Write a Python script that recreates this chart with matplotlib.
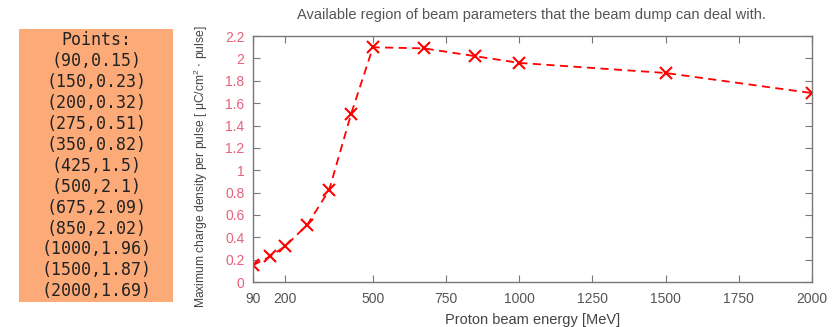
import matplotlib
matplotlib.use("Agg")
import matplotlib.pyplot as plt
from matplotlib.patches import Rectangle

# beam dump limits
energy = [90, 150, 200, 275, 350, 425, 500, 675, 850, 1000, 1500, 2000]
charge = [0.15, 0.23, 0.32, 0.51, 0.82, 1.5, 2.1, 2.09, 2.02, 1.96, 1.87, 1.69]
xticks = [90, 200, 500, 750, 1000, 1250, 1500, 1750, 2000]
yticks = [0, 0.2, 0.4, 0.6, 0.8, 1, 1.2, 1.4, 1.6, 1.8, 2, 2.2]
ytick_labels = ["0", "0.2", "0.4", "0.6", "0.8", "1", "1.2", "1.4", "1.6", "1.8", "2", "2.2"]

title = "Available region of beam parameters that the beam dump can deal with."
xlabel = "Proton beam energy [MeV]"
ylabel = r"Maximum charge density per pulse [ $\mathregular{\mu C/cm^2}$ $\cdot$ pulse]"

fig = plt.figure(figsize=(8.32, 3.27), dpi=100)

# points box on the left
box = Rectangle((0.023, 0.077), 0.185, 0.834, transform=fig.transFigure,
                facecolor="#fcaa78", edgecolor="none")
fig.patches.append(box)
lines = ["Points:"] + ["(%g,%g)" % (e, c) for e, c in zip(energy, charge)]
fig.text(0.1155, 0.905, "\n".join(lines), ha="center", va="top",
         fontsize=12, family="DejaVu Sans Mono", linespacing=1.21, color="#222222")

ax = fig.add_axes([0.304, 0.1376, 0.672, 0.752])
ax.plot(energy, charge, color="red", linestyle="--", linewidth=1.3,
        marker="x", markersize=9, markeredgewidth=1.5, dashes=(4.5, 3))
ax.set_xlim(90, 2000)
ax.set_ylim(0, 2.2)
ax.set_xticks(xticks)
ax.set_yticks(yticks)
ax.set_yticklabels(ytick_labels)
ax.tick_params(direction="in", top=True, right=True, length=5, width=0.8,
               color="#777777", labelsize=10)
ax.tick_params(axis="x", colors="#777777", labelcolor="#555555", pad=7)
ax.tick_params(axis="y", colors="#777777", labelcolor="#e8607c", pad=6)
for t in ax.get_xticklabels() + ax.get_yticklabels():
    t.set_family("Liberation Sans")
for s in ax.spines.values():
    s.set_color("#777777")
    s.set_linewidth(1.0)

fig.text(0.639, 0.955, title, ha="center", va="center", fontsize=10.5,
         family="Liberation Sans", color="#555555")
ax.set_xlabel(xlabel, fontsize=10.5, family="Liberation Sans", color="#444444", labelpad=5)
fig.text(0.241, 0.49, ylabel, rotation=90, ha="center", va="center", fontsize=8.7,
         family="Liberation Sans", color="#444444")

fig.savefig("out.png", dpi=100)
